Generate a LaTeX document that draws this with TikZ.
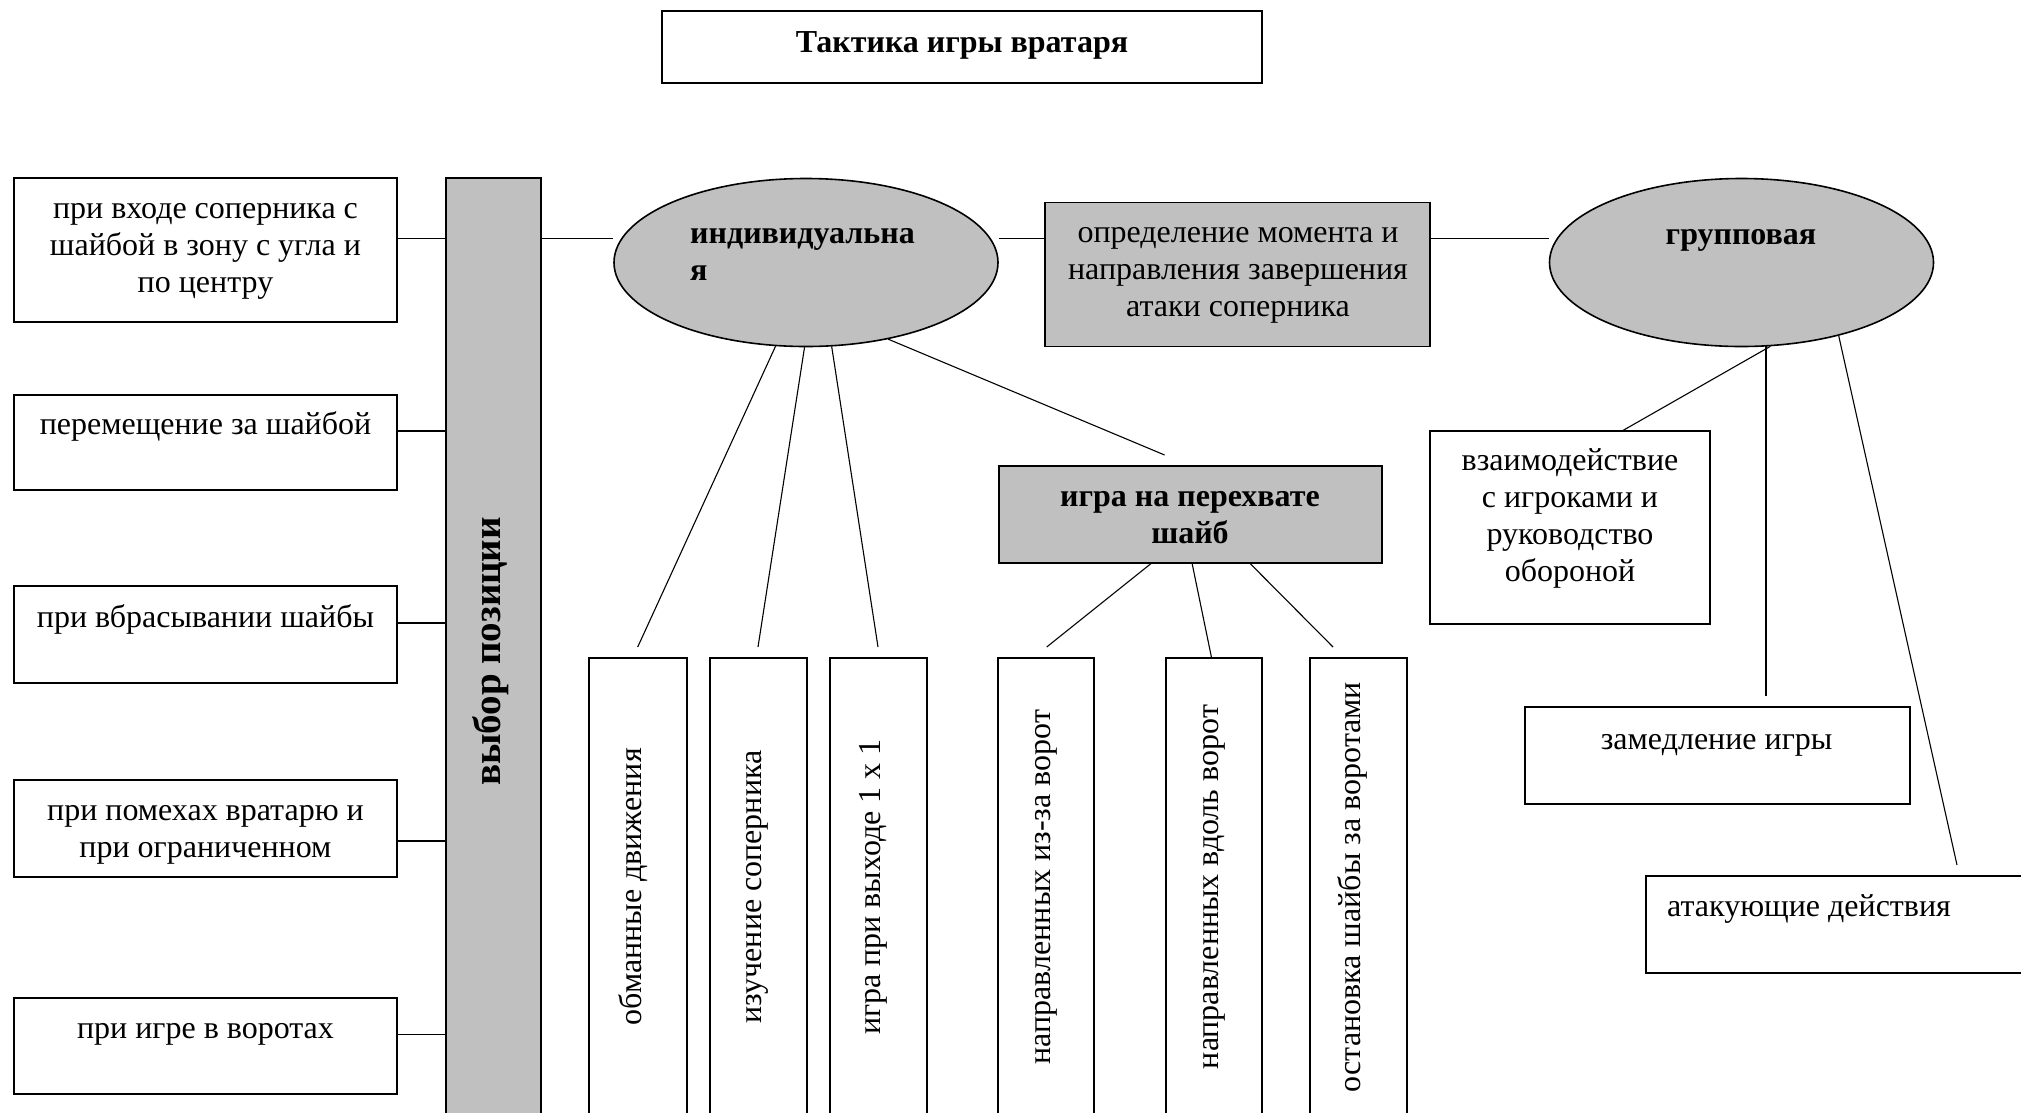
\documentclass[tikz,border=0pt]{standalone}
\usepackage{fontspec}
\setmainfont{Liberation Serif}
\usetikzlibrary{shapes.geometric}
\definecolor{boxgray}{RGB}{192,192,192}
\begin{document}
\begin{tikzpicture}[x=1pt,y=-1pt,
  rbox/.style={draw=black,line width=1.5pt,rectangle,inner sep=0pt,fill=white},
  gbox/.style={rbox,fill=boxgray},
  oval/.style={draw=black,line width=1.6pt,ellipse,inner sep=0pt,fill=boxgray,minimum width=384pt,minimum height=168pt},
  txt/.style={inner sep=0pt,font=\fontsize{32}{37}\selectfont,align=center},
  btxt/.style={inner sep=0pt,font=\fontsize{32}{37}\selectfont\bfseries,align=center},
  vtxt/.style={inner sep=0pt,font=\fontsize{32}{37}\selectfont,rotate=90,anchor=base},
  hcon/.style={line width=1.5pt},
  dcon/.style={line width=1.1pt}]
\useasboundingbox (0,0) rectangle (2021,1112);
\fill[white] (0,0) rectangle (2021,1112);

% title
\node[rbox,minimum width=600pt,minimum height=72pt] (title) at (962,47) {};
\node[btxt,anchor=base] (titletxt) at (962,52) {Тактика игры вратаря};

% left boxes
\node[rbox,minimum width=383pt,minimum height=144pt] (b1) at (205.5,250) {};
\node[rbox,minimum width=383pt,minimum height=95pt] (b2) at (205.5,442.5) {};
\node[rbox,minimum width=383pt,minimum height=97pt] (b3) at (205.5,634.5) {};
\node[rbox,minimum width=383pt,minimum height=97pt] (b4) at (205.5,828.5) {};
\node[rbox,minimum width=383pt,minimum height=96pt] (b5) at (205.5,1046) {};
\node[txt] (b1t) at (205.5,247.6) {\strut при входе соперника с\\\strut шайбой в зону с угла и\\\strut по центру};
\node[txt,anchor=base] (b2t) at (205.5,434) {перемещение за шайбой};
\node[txt,anchor=base] (b3t) at (205.5,627) {при вбрасывании шайбы};
\node[txt] (b4t) at (205.5,831.1) {\strut при помехах вратарю и\\\strut при ограниченном};
\node[txt,anchor=base] (b5t) at (205.5,1038) {при игре в воротах};

% bar
\node[gbox,minimum width=95pt,minimum height=960pt] (bar) at (493.5,658) {};
\node[vtxt,font=\fontsize{39}{45}\selectfont\bfseries] (bart) at (500,651.5) {выбор позиции};

% ellipses
\node[oval] (ind) at (806,262.5) {};
\node[btxt,align=left,anchor=west] (indt) at (690,254.1) {\strut индивидуальна\\\strut я};
\node[oval] (grp) at (1741.5,262.5) {};
\node[btxt,anchor=base] (grpt) at (1741,244) {групповая};

% grey boxes
\node[gbox,minimum width=385pt,minimum height=144pt] (opr) at (1237.5,274.5) {};
\node[txt] (oprt) at (1238,272.1) {\strut определение момента и\\\strut направления завершения\\\strut атаки соперника};
\node[gbox,minimum width=383pt,minimum height=97pt] (per) at (1190.5,514.5) {};
\node[btxt] (pert) at (1190,517.6) {\strut игра на перехвате\\\strut шайб};

% right boxes
\node[rbox,minimum width=280pt,minimum height=193pt] (vz) at (1570,527.5) {};
\node[txt] (vzt) at (1570,518.1) {\strut взаимодействие\\\strut с игроками и\\\strut руководство\\\strut обороной};
\node[rbox,minimum width=385pt,minimum height=97pt] (zam) at (1717.5,755.5) {};
\node[txt,anchor=base] (zamt) at (1716.6,749) {замедление игры};
\node[rbox,minimum width=394pt,minimum height=97pt] (atk) at (1843,924.5) {};
\node[txt,anchor=base west] (atkt) at (1667,916.7) {атакующие действия};

% vertical boxes
\node[rbox,minimum width=98pt,minimum height=480pt] (va) at (638,898) {};
\node[rbox,minimum width=97pt,minimum height=480pt] (vb) at (758.5,898) {};
\node[rbox,minimum width=97pt,minimum height=480pt] (vc) at (878.5,898) {};
\node[rbox,minimum width=96pt,minimum height=480pt] (vd) at (1046,898) {};
\node[rbox,minimum width=96pt,minimum height=480pt] (ve) at (1214,898) {};
\node[rbox,minimum width=97pt,minimum height=480pt] (vf) at (1358.5,898) {};
\node[vtxt] (vat) at (641,887) {обманные движения};
\node[vtxt] (vbt) at (761.5,887) {изучение соперника};
\node[vtxt] (vct) at (880,887) {игра при выходе 1 х 1};
\node[vtxt] (vdt) at (1050,887) {направленных из-за ворот};
\node[vtxt] (vet) at (1218,887) {направленных вдоль ворот};
\node[vtxt] (vft) at (1360,887) {остановка шайбы за воротами};

% connector helper coordinates
\coordinate (L1) at (0,238.6);
\coordinate (L2) at (0,431);
\coordinate (L3) at (0,623);
\coordinate (L4) at (0,841);
\coordinate (L5) at (0,1034.5);
\coordinate (ta) at (637.7,647);
\coordinate (tb) at (758,647);
\coordinate (tc) at (878,647);
\coordinate (tp) at (1164.6,455);
\coordinate (p1) at (1151.7,563);
\coordinate (p2) at (1192,563);
\coordinate (p3) at (1249.6,563);
\coordinate (td) at (1046.7,647);
\coordinate (te) at (1211.6,658);
\coordinate (tf) at (1333,647);
\coordinate (tv) at (1622,431);
\coordinate (g2) at (1766,346);
\coordinate (tz) at (1766,696);
\coordinate (tg) at (1957,865);

% connectors
\draw[hcon] (b1.east |- L1) -- (bar.west |- L1);
\draw[hcon] (b2.east |- L2) -- (bar.west |- L2);
\draw[hcon] (b3.east |- L3) -- (bar.west |- L3);
\draw[hcon] (b4.east |- L4) -- (bar.west |- L4);
\draw[hcon] (b5.east |- L5) -- (bar.west |- L5);
\draw[hcon] (bar.east |- L1) -- (ind.west |- L1);
\draw[hcon] (ind.east |- L1) -- (opr.west |- L1);
\draw[hcon] (opr.east |- L1) -- (grp.west |- L1);

\draw[dcon] (ind.250) -- (ta);
\draw[dcon] (ind.269) -- (tb);
\draw[dcon] (ind.287) -- (tc);
\draw[dcon] (ind.317) -- (tp);
\draw[dcon] (p1) -- (td);
\draw[dcon] (p2) -- (te);
\draw[dcon] (p3) -- (tf);
\draw[dcon] (grp.289) -- (tv);
\draw[dcon] (g2) -- (tz);
\draw[dcon] (grp.323) -- (tg);
\end{tikzpicture}
\end{document}
